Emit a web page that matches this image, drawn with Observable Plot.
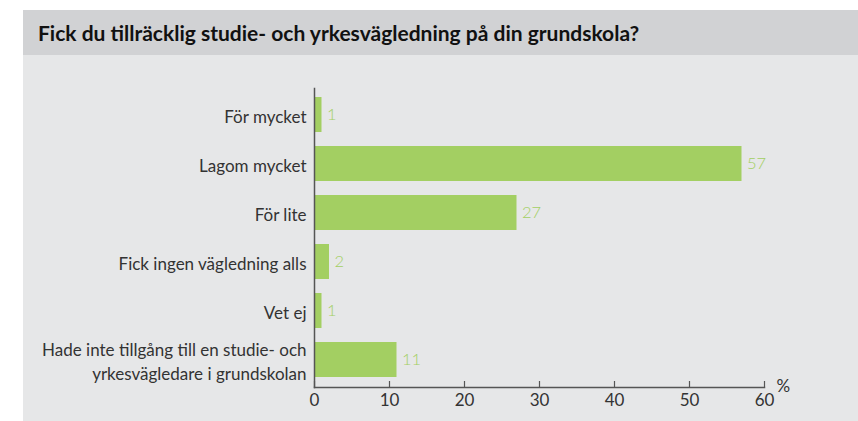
<!DOCTYPE html>
<html>
<head>
<meta charset="utf-8">
<script src="https://cdn.jsdelivr.net/npm/d3@7"></script>
<script src="https://cdn.jsdelivr.net/npm/@observablehq/plot@0.6"></script>
<style>
  html, body { margin: 0; padding: 0; background: #ffffff; overflow: hidden; }
  #wrap { position: absolute; left: 23px; top: 10px; width: 835px; }
  #title {
    height: 45px; background: #d1d2d4; box-sizing: border-box;
    padding-left: 15px; line-height: 45px;
    font-family: Lato, sans-serif; font-weight: 700; font-size: 21px; color: #111;
    letter-spacing: 0px;
  }
  #chart { background: #e6e7e8; height: 366px; }
  #chart svg { display: block; }
</style>
</head>
<body>
<div id="wrap">
  <div id="title">Fick du tillräcklig studie- och yrkesvägledning på din grundskola?</div>
  <div id="chart"></div>
</div>
<script>
const categories = [
  "För mycket",
  "Lagom mycket",
  "För lite",
  "Fick ingen vägledning alls",
  "Vet ej",
  "Hade inte tillgång till en studie- och\nyrkesvägledare i grundskolan"
];
const values = [1, 57, 27, 2, 1, 11];
const xTicks = [0, 10, 20, 30, 40, 50, 60];
const unitLabel = "%";

const data = categories.map((c, i) => ({cat: c, value: values[i]}));
const green = "#a3cf62";
const labelGreen = "#a3cf62";
const ink = "#333333";

const chart = Plot.plot({
  width: 835,
  height: 366,
  marginTop: 33,
  marginBottom: 34,
  marginLeft: 291,
  marginRight: 94,
  style: {background: "transparent", fontFamily: "Lato, sans-serif", color: ink},
  x: {domain: [0, 60], label: null},
  y: {domain: categories, paddingInner: 0.28, paddingOuter: 0.14, label: null},
  marks: [
    Plot.barX(data, {x: "value", y: "cat", fill: green}),
    Plot.text(data, {x: "value", y: "cat", text: d => String(d.value), dx: 5, textAnchor: "start", fill: labelGreen, fontSize: 16.5, fontWeight: 300}),
    Plot.frame({anchor: "left", stroke: "#555", strokeWidth: 1.5}),
    Plot.frame({anchor: "bottom", stroke: "#555", strokeWidth: 1.5}),
    Plot.axisX({ticks: xTicks, tickSize: 6, dy: -6, tickFormat: () => "", stroke: "#555", strokeWidth: 1.2, label: null}),
    Plot.axisX({ticks: xTicks, tickSize: 0, tickPadding: 6, fontSize: 17, fill: ink, label: null}),
    Plot.axisY({tickSize: 0, tickPadding: 8, fontSize: 17, fill: ink, label: null, lineHeight: 1.4}),
    Plot.text([unitLabel], {frameAnchor: "bottom-right", dx: 12, dy: -1, textAnchor: "start", lineAnchor: "middle", fontSize: 17, fill: ink})
  ]
});
document.getElementById("chart").appendChild(chart);
</script>
</body>
</html>
